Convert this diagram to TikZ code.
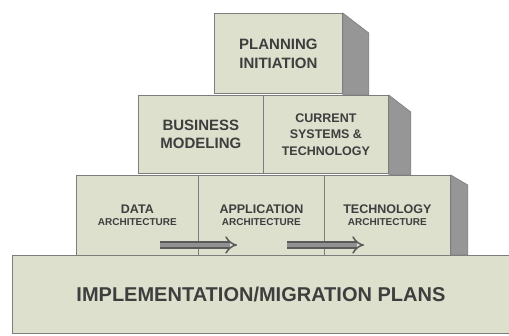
\documentclass[tikz,border=0pt]{standalone}
\usepackage{fontspec}
\setmainfont{Liberation Sans}
\usetikzlibrary{arrows.meta}
\definecolor{facecol}{RGB}{221,224,205}
\definecolor{sidecol}{RGB}{150,150,150}
\definecolor{edgecol}{RGB}{125,125,125}
\definecolor{txtcol}{RGB}{62,62,62}
\definecolor{arrowout}{RGB}{90,90,90}
\definecolor{arrowin}{RGB}{145,145,145}
\begin{document}
\begin{tikzpicture}[x=1pt,y=-1pt,
  face/.style={draw=edgecol, fill=facecol, line width=0.8pt, anchor=north west,
    inner sep=0pt, align=center, text=txtcol, font=\bfseries},
  sideface/.style={fill=sidecol, draw=edgecol, line width=0.6pt},
  flow/.style={draw=arrowout, double=arrowin, double distance=4.5pt, line width=1.5pt,
    -{Implies}}
]
\useasboundingbox (0,0) rectangle (509,336);
% top block
\node[face, minimum width=128pt, minimum height=80pt,
  font=\bfseries\fontsize{15}{19}\selectfont] (plan) at (214,13) {PLANNING\\INITIATION};
\path[sideface] (plan.north east) -- ++(26,20) -- ++(0,62) -- ++(-26,0) -- cycle;
% second row
\node[face, minimum width=125pt, minimum height=78pt,
  font=\bfseries\fontsize{15}{18}\selectfont] (bus) at (138,95) {BUSINESS\\MODELING};
\node[face, minimum width=125pt, minimum height=78pt,
  font=\bfseries\fontsize{12.5}{16.5}\selectfont] (cur) at (263,95) {CURRENT\\SYSTEMS \&\\TECHNOLOGY};
\path[sideface] (cur.north east) -- ++(22,17) -- ++(0,63) -- ++(-22,0) -- cycle;
% third row
\node[face, minimum width=122pt, minimum height=80pt] (data) at (76,175)
  {\fontsize{12.5}{14}\selectfont DATA\\\fontsize{10}{14}\selectfont ARCHITECTURE};
\node[face, minimum width=126pt, minimum height=80pt] (app) at (198,175)
  {\fontsize{12.5}{14}\selectfont APPLICATION\\\fontsize{10}{14}\selectfont ARCHITECTURE};
\node[face, minimum width=126pt, minimum height=80pt] (tech) at (324,175)
  {\fontsize{12.5}{14}\selectfont TECHNOLOGY\\\fontsize{10}{14}\selectfont ARCHITECTURE};
\path[sideface] (tech.north east) -- ++(17,10) -- ++(0,70) -- ++(-17,0) -- cycle;
% arrows
\coordinate (a1s) at (160,245);
\coordinate (a1e) at (237,245);
\coordinate (a2s) at (287,245);
\coordinate (a2e) at (364,245);
\draw[flow] (a1s) -- (a1e);
\draw[flow] (a2s) -- (a2e);
% base
\node[face, minimum width=497pt, minimum height=78pt,
  font=\bfseries\fontsize{20}{24}\selectfont] (base) at (12,255) {IMPLEMENTATION/MIGRATION PLANS};
\end{tikzpicture}
\end{document}
